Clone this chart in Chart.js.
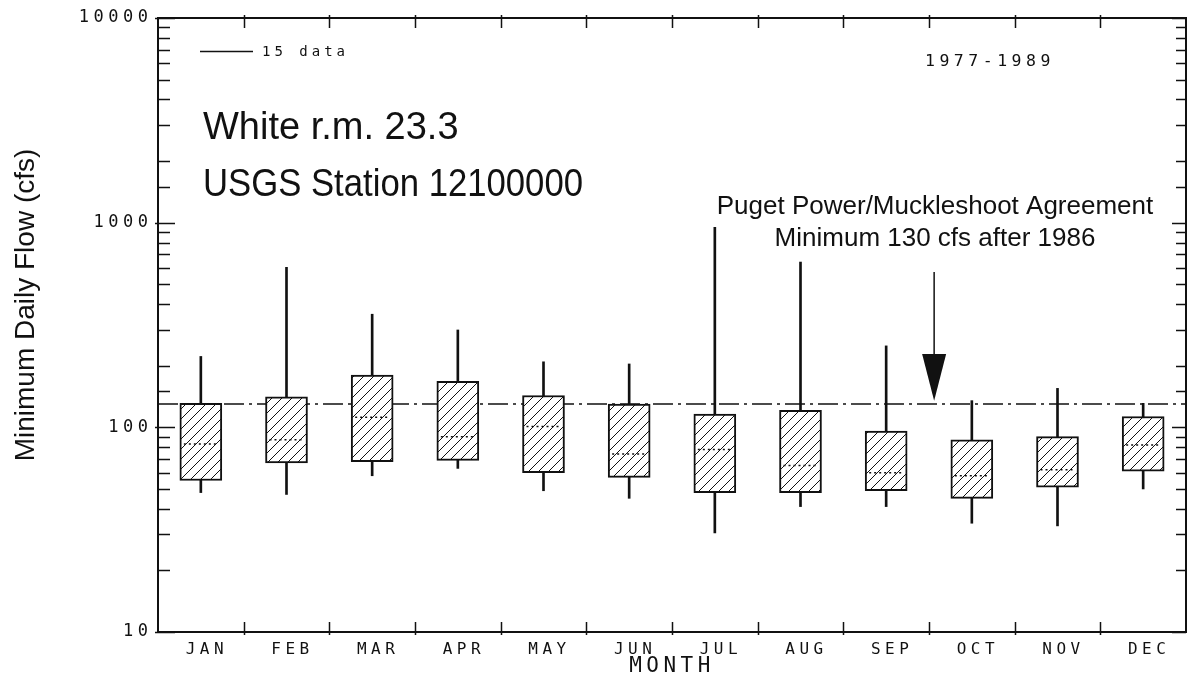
<!DOCTYPE html>
<html>
<head>
<meta charset="utf-8">
<script src="https://cdn.jsdelivr.net/npm/chart.js@4.4.1/dist/chart.umd.min.js"></script>
<style>
  html, body { margin: 0; padding: 0; background: #fff; }
</style>
</head>
<body>
<canvas id="flowChart" width="1189" height="679"></canvas>
<script>
// monthly minimum daily flow (cfs), 1977-1989
const months = ['JAN', 'FEB', 'MAR', 'APR', 'MAY', 'JUN', 'JUL', 'AUG', 'SEP', 'OCT', 'NOV', 'DEC'];
const whiskerLow  = [48, 47, 58, 63, 49, 45, 30.5, 41, 41, 34, 33, 50];
const boxLow      = [55, 67, 68, 69, 60, 57, 48, 48, 49, 45, 51, 61];
const medians     = [83, 87, 112, 90, 101, 74, 78, 65, 60, 58, 62, 82];
const boxHigh     = [131, 141, 180, 168, 143, 130, 116, 121, 96, 87, 90, 113];
const whiskerHigh = [222, 605, 357, 299, 209, 204, 950, 642, 250, 135, 155, 131];
const yTickLabels = [10, 100, 1000, 10000];
const agreementFlow = 130;
// arrow pointing at the agreement line (category position, flow values)
const arrowAt = 8.56;
const arrowFrom = 574;
const arrowHead = 228;
const arrowTip = 135;

const INK = '#111';
const SANS = '"Liberation Sans", Arial, Helvetica, sans-serif';
const PLOTTER = '"DejaVu Sans Mono", monospace';
const SPACING = 4.5;

const canvas = document.getElementById('flowChart');
const ctx = canvas.getContext('2d');

// diagonal hatching for the boxes
const hatch = (function () {
    const c = document.createElement('canvas');
    c.width = 10; c.height = 10;
    const g = c.getContext('2d');
    g.fillStyle = '#fff';
    g.fillRect(0, 0, 10, 10);
    g.strokeStyle = INK;
    g.lineWidth = 1;
    g.beginPath();
    g.moveTo(-1, 11); g.lineTo(11, -1);
    g.moveTo(-1, 1); g.lineTo(1, -1);
    g.moveTo(9, 11); g.lineTo(11, 9);
    g.stroke();
    return ctx.createPattern(c, 'repeat');
})();

// the old pen plotter spaced its letters out
const plotterSpacing = {
    id: 'plotterSpacing',
    beforeUpdate(chart) { chart.ctx.letterSpacing = SPACING + 'px'; },
    beforeDraw(chart) { chart.ctx.letterSpacing = SPACING + 'px'; }
};

const frame = {
    id: 'frame',
    beforeDatasetsDraw(chart) {
        const { ctx, chartArea: a, scales: { x, y } } = chart;
        ctx.save();
        ctx.strokeStyle = INK;
        ctx.lineWidth = 2;
        ctx.strokeRect(a.left, a.top, a.right - a.left, a.bottom - a.top);

        // y ticks, left and right
        ctx.lineWidth = 1.5;
        ctx.beginPath();
        y.ticks.forEach(t => {
            const py = Math.round(y.getPixelForValue(t.value)) + 0.5;
            const major = yTickLabels.includes(t.value);
            ctx.moveTo(a.left - (major ? 3 : 0), py);
            ctx.lineTo(a.left + (major ? 17 : 12), py);
            ctx.moveTo(a.right, py);
            ctx.lineTo(a.right - (major ? 14 : 10), py);
        });
        // x ticks at month boundaries
        for (let i = 1; i < months.length; i++) {
            const px = Math.round(x.getPixelForValue(i - 0.5)) + 0.5;
            ctx.moveTo(px, a.top - 3);
            ctx.lineTo(px, a.top + 10);
            ctx.moveTo(px, a.bottom + 3);
            ctx.lineTo(px, a.bottom - 10);
        }
        ctx.stroke();

        // agreement minimum, dash-dot
        const ly = y.getPixelForValue(agreementFlow);
        ctx.lineWidth = 1.5;
        ctx.setLineDash([20, 5, 3, 5]);
        ctx.beginPath();
        ctx.moveTo(a.left, ly);
        ctx.lineTo(a.right, ly);
        ctx.stroke();
        ctx.restore();
    },
    afterDatasetsDraw(chart) {
        const { ctx, scales: { y } } = chart;
        const meta = chart.getDatasetMeta(1);
        ctx.save();
        ctx.strokeStyle = INK;
        ctx.lineWidth = 1.5;
        ctx.setLineDash([2, 3]);
        meta.data.forEach((bar, i) => {
            const py = y.getPixelForValue(medians[i]);
            ctx.beginPath();
            ctx.moveTo(bar.x - bar.width / 2 + 4, py);
            ctx.lineTo(bar.x + bar.width / 2 - 4, py);
            ctx.stroke();
        });
        ctx.restore();
    },
    afterDraw(chart) {
        const { ctx, scales: { x, y } } = chart;
        ctx.save();
        ctx.fillStyle = INK;
        ctx.strokeStyle = INK;

        // legend line
        ctx.lineWidth = 1.5;
        ctx.beginPath();
        ctx.moveTo(200, 51.5);
        ctx.lineTo(253, 51.5);
        ctx.stroke();
        ctx.letterSpacing = '4px';
        ctx.font = '14px ' + PLOTTER;
        ctx.textBaseline = 'middle';
        ctx.textAlign = 'left';
        ctx.fillText('15 data', 262, 52);
        ctx.letterSpacing = '4.5px';
        ctx.font = '16.5px ' + PLOTTER;
        ctx.fillText('1977-1989', 925, 62);

        ctx.letterSpacing = '0px';
        ctx.font = '38px ' + SANS;
        ctx.fillText('White r.m. 23.3', 203, 129);
        ctx.fillText('USGS Station 12100000', 203, 186, 380);

        ctx.textAlign = 'center';
        ctx.font = '26px ' + SANS;
        ctx.fillText('Puget Power/Muckleshoot Agreement', 935, 207);
        ctx.fillText('Minimum 130 cfs after 1986', 935, 239);

        // y axis title
        ctx.save();
        ctx.translate(26, 305);
        ctx.rotate(-Math.PI / 2);
        ctx.font = '28px ' + SANS;
        ctx.fillText('Minimum Daily Flow (cfs)', 0, 0);
        ctx.restore();

        // arrow
        const ax = x.getPixelForValue(arrowAt);
        const y0 = y.getPixelForValue(arrowFrom);
        const y1 = y.getPixelForValue(arrowHead);
        const y2 = y.getPixelForValue(arrowTip);
        ctx.lineWidth = 1.5;
        ctx.beginPath();
        ctx.moveTo(ax, y0);
        ctx.lineTo(ax, y1);
        ctx.stroke();
        ctx.beginPath();
        ctx.moveTo(ax - 12, y1);
        ctx.lineTo(ax + 12, y1);
        ctx.lineTo(ax, y2);
        ctx.closePath();
        ctx.fill();
        ctx.restore();
    }
};

new Chart(ctx, {
    type: 'bar',
    data: {
        labels: months,
        datasets: [
            {
                label: 'range',
                data: months.map((m, i) => [whiskerLow[i], whiskerHigh[i]]),
                backgroundColor: INK,
                borderWidth: 0,
                barThickness: 2,
                grouped: false,
                order: 2
            },
            {
                label: 'quartiles',
                data: months.map((m, i) => [boxLow[i], boxHigh[i]]),
                backgroundColor: hatch,
                borderColor: INK,
                borderWidth: 2,
                borderSkipped: false,
                barThickness: 42,
                grouped: false,
                order: 1
            }
        ]
    },
    options: {
        responsive: false,
        animation: false,
        layout: { padding: { left: 10, top: 18, right: 3, bottom: 0 } },
        plugins: {
            legend: { display: false },
            tooltip: { enabled: false }
        },
        scales: {
            x: {
                type: 'category',
                offset: true,
                grid: { display: false, drawTicks: false },
                border: { display: false },
                ticks: {
                    color: INK,
                    padding: 8,
                    labelOffset: 6,
                    font: { family: PLOTTER, size: 16 }
                },
                title: {
                    display: true,
                    text: 'MONTH',
                    color: INK,
                    padding: { top: 0, bottom: 0 },
                    font: { family: PLOTTER, size: 21 }
                },
                afterFit: s => { s.height = 47; }
            },
            y: {
                type: 'logarithmic',
                min: 10,
                max: 10000,
                grid: { display: false, drawTicks: false },
                border: { display: false },
                ticks: {
                    color: INK,
                    padding: 5.5,
                    autoSkip: false,
                    font: { family: PLOTTER, size: 17 },
                    callback: v => yTickLabels.includes(v) ? String(v) : ''
                },
                afterFit: s => { s.width = 148; }
            }
        }
    },
    plugins: [plotterSpacing, frame]
});
</script>
</body>
</html>
